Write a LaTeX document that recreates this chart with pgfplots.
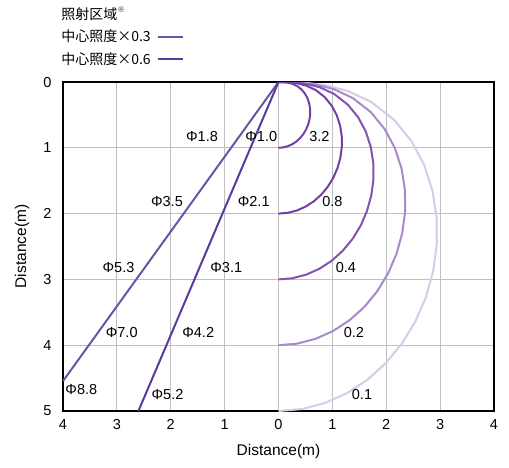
\documentclass[border=0pt]{standalone}
\usepackage{fontspec}
\setmainfont{Liberation Sans}
\newfontfamily\cjk{Noto Sans CJK JP}
\usepackage{pgfplots}
\pgfplotsset{compat=1.18}
\definecolor{lineA}{HTML}{5F5AA8}
\definecolor{lineB}{HTML}{5B3A9E}
\definecolor{cA}{HTML}{7440A4}
\definecolor{cB}{HTML}{8452B0}
\definecolor{cC}{HTML}{A68ACB}
\definecolor{cD}{HTML}{D3CDE7}
\newcommand{\lbl}{\fontsize{14.5}{17}\selectfont}
\newcommand{\alb}{\fontsize{15.5}{18}\selectfont}
\begin{document}
\begin{tikzpicture}
\useasboundingbox (-63pt,-56pt) rectangle (446pt,411pt);
\begin{axis}[
    at={(0,0)}, anchor=south west,
    scale only axis, width=431pt, height=329pt,
    xmin=-4, xmax=4, ymin=0, ymax=5,
    y dir=reverse,
    xtick={-4,-3,-2,-1,0,1,2,3,4},
    xticklabels={4,3,2,1,0,1,2,3,4},
    ytick={0,1,2,3,4,5},
    grid=major,
    grid style={color=black!25, line width=0.9pt},
    axis line style={line width=2pt},
    major tick length=0pt,
    /pgf/number format/assume math mode=true,
    tick label style={font=\lbl},
    xticklabel style={yshift=-5pt},
    yticklabel style={xshift=-8pt},
    xlabel={Distance(m)}, ylabel={Distance(m)},
    label style={font=\alb},
    xlabel style={at={(axis description cs:0.5,-0.1216)}, anchor=center},
    ylabel style={at={(axis description cs:-0.0951,0.5)}, anchor=center},
    every axis plot/.append style={line join=round},
    legend plot pos=right,
    legend cell align=left,
    legend image code/.code={\draw[#1, line width=2pt] (0pt,0pt) -- (25pt,0pt);},
    legend style={at={(axis description cs:-0.016,1.24)}, anchor=north west,
        draw=none, fill=none, font=\cjk\fontsize{14}{16}\selectfont, row sep=5.5pt,
        nodes={inner sep=2pt},
        /tikz/every odd column/.append style={column sep=4pt}},
]
\addlegendimage{empty legend}
\addlegendentry{照射区域\raisebox{0.45em}{\fontsize{7.5}{8}\selectfont ※}}

% isoilluminance curves (0.1, 0.2, 0.4, 0.8, 3.2)
\addplot[cD, line width=2pt, forget plot] coordinates {
(0,5) (0.435,4.970) (0.861,4.879) (1.267,4.730) (1.648,4.527) (1.992,4.272)
(2.294,3.972) (2.544,3.634) (2.739,3.264) (2.872,2.872) (2.938,2.466)
(2.934,2.055) (2.857,1.650) (2.703,1.260) (2.468,0.899) (2.147,0.575)
(1.723,0.304) (1.283,0.135) (0.851,0.045) (0.441,0.008) (0.291,0.003) (0,0)};
\addplot[cC, line width=2pt, forget plot] coordinates {
(0,4) (0.348,3.976) (0.688,3.903) (1.014,3.784) (1.318,3.621) (1.594,3.418)
(1.835,3.178) (2.035,2.907) (2.191,2.611) (2.297,2.297) (2.350,1.972)
(2.347,1.644) (2.286,1.320) (2.162,1.008) (1.974,0.719) (1.717,0.460)
(1.378,0.243) (1.026,0.108) (0.680,0.036) (0.352,0.006) (0.232,0.002) (0,0)};
\addplot[cB, line width=2pt, forget plot] coordinates {
(0,3) (0.261,2.982) (0.516,2.927) (0.760,2.838) (0.989,2.716) (1.195,2.563)
(1.376,2.383) (1.527,2.180) (1.643,1.958) (1.723,1.723) (1.763,1.479)
(1.760,1.233) (1.714,0.990) (1.622,0.756) (1.481,0.539) (1.288,0.345)
(1.034,0.182) (0.770,0.081) (0.510,0.027) (0.264,0.005) (0.174,0.002) (0,0)};
\addplot[cA, line width=2pt, forget plot] coordinates {
(0,2) (0.174,1.988) (0.344,1.952) (0.507,1.892) (0.659,1.811) (0.797,1.709)
(0.917,1.589) (1.018,1.454) (1.096,1.306) (1.149,1.149) (1.175,0.986)
(1.174,0.822) (1.143,0.660) (1.081,0.504) (0.987,0.359) (0.859,0.230)
(0.689,0.121) (0.513,0.054) (0.340,0.018) (0.176,0.003) (0.116,0.001) (0,0)};
\addplot[cA, line width=2pt, forget plot] coordinates {
(0,1) (0.087,0.994) (0.172,0.976) (0.254,0.946) (0.330,0.905) (0.398,0.854)
(0.459,0.794) (0.509,0.727) (0.548,0.653) (0.574,0.574) (0.588,0.493)
(0.587,0.411) (0.571,0.330) (0.541,0.252) (0.494,0.180) (0.429,0.115)
(0.345,0.061) (0.257,0.027) (0.170,0.009) (0.088,0.002) (0.058,0.001) (0,0)};

% irradiation area lines
\addplot[lineA, line width=2pt] coordinates {(0,0) (-4,4.545)};
\addlegendentry{中心照度×0.3}
\addplot[lineB, line width=2pt] coordinates {(0,0) (-2.6,5)};
\addlegendentry{中心照度×0.6}

\begin{scope}[every node/.style={font=\lbl}]
\node at (axis cs:-1.42,0.83) {Φ1.8};
\node at (axis cs:-0.32,0.83) {Φ1.0};
\node at (axis cs:0.76,0.83) {3.2};
\node at (axis cs:-2.07,1.81) {Φ3.5};
\node at (axis cs:-0.46,1.81) {Φ2.1};
\node at (axis cs:1.00,1.81) {0.8};
\node at (axis cs:-2.97,2.82) {Φ5.3};
\node at (axis cs:-0.97,2.82) {Φ3.1};
\node at (axis cs:1.25,2.82) {0.4};
\node at (axis cs:-2.91,3.80) {Φ7.0};
\node at (axis cs:-1.49,3.80) {Φ4.2};
\node at (axis cs:1.40,3.80) {0.2};
\node at (axis cs:-3.66,4.67) {Φ8.8};
\node at (axis cs:-2.06,4.75) {Φ5.2};
\node at (axis cs:1.55,4.75) {0.1};
\end{scope}
\node[font=\cjk\fontsize{15}{17}\selectfont] at (axis description cs:0.9095,1.137) {等照度曲線};
\node[font=\fontsize{15}{17}\selectfont] at (axis description cs:0.9095,1.070) {(\textit{μ}W/cm²)};
\end{axis}
\end{tikzpicture}
\end{document}
